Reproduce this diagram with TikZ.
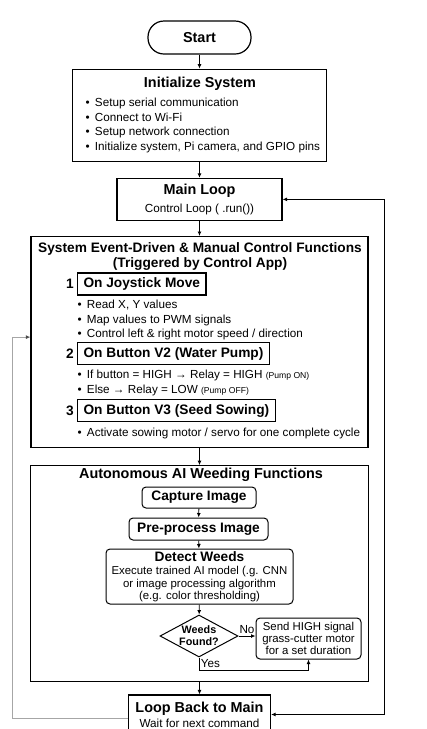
\documentclass[tikz,border=0pt]{standalone}
\usepackage{fontspec}
\setmainfont{Liberation Sans}
\usepackage{tikz}
\usetikzlibrary{positioning, shapes.geometric, arrows.meta}

\newcommand{\ttlfont}{\fontsize{14.4}{17}\selectfont\bfseries}
\newcommand{\hdfont}{\fontsize{13.7}{15}\selectfont\bfseries}
\newcommand{\txtfont}{\fontsize{11.7}{14.8}\selectfont}
\newcommand{\smfont}{\fontsize{8.6}{10}\selectfont}
\newcommand{\bul}{\textbullet\hspace{5.3pt}}

\begin{document}
\begin{tikzpicture}[
    x=1pt, y=-1pt,
    >={Latex[length=4.5pt, width=4pt]},
    every edge/.style={draw, line width=0.9pt},
    frame/.style={draw, line width=1.2pt, inner sep=0pt},
    box/.style={draw, line width=1.2pt, align=center, font=\txtfont},
    rbox/.style={draw, line width=1pt, rounded corners=4pt, align=center, inner sep=0pt},
    hdbox/.style={draw, line width=1.1pt, font=\hdfont, minimum height=22pt, inner xsep=6pt, inner ysep=0pt, anchor=west},
    ttl/.style={font=\ttlfont, align=center, inner sep=0pt, anchor=north},
    list/.style={font=\txtfont, align=left, inner sep=0pt, anchor=north west},
    num/.style={font=\hdfont, inner sep=0pt, anchor=east},
    lbl/.style={font=\txtfont, inner sep=1.5pt}]

    \useasboundingbox (0,0) rectangle (427,729);

    \node at (199.5,37.5)[box, font=\ttlfont, rounded corners=16pt, minimum width=103pt, minimum height=33pt] (start) {Start};

    \node [frame, below=14pt of start, minimum width=254pt, minimum height=92pt] (init) {};
    \node at (200,77)[ttl] (initttl) {Initialize System};
    \node at (85.4,97.7)[list] (initlist) {\bul Setup serial communication\\ \bul Connect to Wi-Fi\\ \bul Setup network connection\\ \bul Initialize system, Pi camera, and GPIO pins};

    \node [box, below=16pt of init, minimum width=165pt, minimum height=42pt] (main) {{\ttlfont Main Loop}\\[3pt] Control Loop ( .run())};

    %%% Manual control block
    \node [frame, below=15pt of main, minimum width=337pt, minimum height=211pt] (sys) {};
    \node at (200,242)[ttl, font=\hdfont] (systtl) {System Event-Driven \& Manual Control Functions\\ (Triggered by Control App)};

    \node at (77,284)[hdbox] (joy) {On Joystick Move};
    \node [num, left=3pt of joy] (num1) {1};
    \node at (77.4,299.7)[list] (joylist) {\bul Read X, Y values\\ \bul Map values to PWM signals\\ \bul Control left \& right motor speed / direction};

    \node at (77,353.5)[hdbox] (pump) {On Button V2 (Water Pump)};
    \node [num, left=3pt of pump] (num2) {2};
    \node at (77.4,369.7)[list] (pumplist) {\bul If button = HIGH → Relay = HIGH {\smfont (Pump ON)}\\ \bul Else → Relay = LOW {\smfont (Pump OFF)}};

    \node at (77,410.5)[hdbox] (seed) {On Button V3 (Seed Sowing)};
    \node [num, left=3pt of seed] (num3) {3};
    \node at (77.4,427.7)[list] (seedlist) {\bul Activate sowing motor / servo for one complete cycle};

    %%% Weeding block
    \node [frame, below=17pt of sys, minimum width=338pt, minimum height=216pt] (ai) {};
    \node at (201,467.7)[ttl] (aittl) {Autonomous AI Weeding Functions};
    \node at (199,497.5)[rbox, font=\hdfont, minimum width=114pt, minimum height=21pt] (capture) {Capture Image};
    \node at (198.5,529)[rbox, font=\hdfont, minimum width=139pt, minimum height=22pt] (prep) {Pre-process Image};
    \node at (199.5,576.5)[rbox, font=\fontsize{11.4}{12.2}\selectfont, minimum width=187pt, minimum height=55pt] (detect) {{\hdfont Detect Weeds}\\[1.5pt] Execute trained AI model (.g. CNN\\ or image processing algorithm\\ (e.g. color thresholding)};
    \node at (199,636)[diamond, draw, line width=1pt, aspect=1.86, inner sep=0pt, minimum width=78pt, minimum height=42pt, font=\fontsize{10.8}{12}\selectfont\bfseries, align=center] (weeds) {Weeds\\Found?};
    \node at (308.5,638.5)[rbox, font=\fontsize{11.4}{12}\selectfont, minimum width=105pt, minimum height=41pt] (send) {Send HIGH signal\\ grass-cutter motor\\ for a set duration};

    \node [box, below=12pt of ai, minimum width=142pt, minimum height=39pt] (loop) {{\ttlfont Loop Back to Main}\\ Wait for next command};

    %%% Flow between blocks
    \path (start) edge [->] (init);
    \path (init) edge [->] (main);
    \path (main) edge [->] (sys);
    \path (sys) edge [->] (ai);
    \path (ai) edge [->] (loop);
    \path (capture) edge [->] (prep);
    \path (prep) edge [->] (detect);
    \path (detect) edge [->] (weeds);
    \path (weeds.east) edge [->] node[lbl, above] {No} (send.west |- weeds.east);
    \draw [->, line width=0.9pt] (weeds.south) -- ++(0,13) node[lbl, midway, right] {Yes} -| (send.south);

    %%% Loop back connections
    \draw [<->, line width=0.9pt] (loop.east) -- ++(113.5,0) |- (main.east);
    \draw [-{Latex[length=4.5pt, width=4pt, color=black!70]}, line width=0.9pt, draw=black!35] ([yshift=-4pt]loop.west) -- ++(-115.5,0) |- ([yshift=5pt]sys.west);

\end{tikzpicture}
\end{document}
